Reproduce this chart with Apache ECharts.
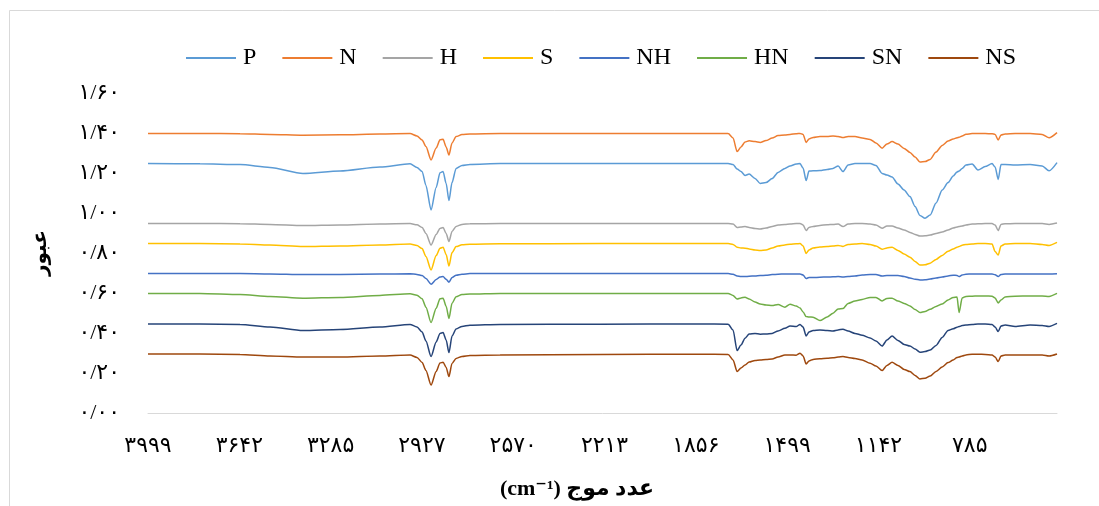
<!DOCTYPE html>
<html><head><meta charset="utf-8">
<script src="https://cdn.jsdelivr.net/npm/echarts@6/dist/echarts.min.js"></script>
<style>html,body{margin:0;padding:0;background:#fff}#c{width:1099px;height:506px}</style>
</head><body><div id="c"></div>
<script>
// ---- data ----
const seriesNames = ['P','N','H','S','NH','HN','SN','NS'];
const seriesColors = ['#5B9BD5','#ED7D31','#A5A5A5','#FFC000','#4472C4','#70AD47','#264478','#9E480E'];
const xTickLabels = ['۳۹۹۹','۳۶۴۲','۳۲۸۵','۲۹۲۷','۲۵۷۰','۲۲۱۳','۱۸۵۶','۱۴۹۹','۱۱۴۲','۷۸۵'];
const yTickLabels = ['۰/۰۰','۰/۲۰','۰/۴۰','۰/۶۰','۰/۸۰','۱/۰۰','۱/۲۰','۱/۴۰','۱/۶۰'];
const wavenumbers = [3999,3796,3639,3522,3393,3248,3092,2974,2947,2927,2912,2892,2872,2857,2845,2833,2822,2810,2794,2771,2740,2622,2231,1840,1730,1711,1695,1680,1664,1648,1625,1605,1582,1558,1535,1508,1488,1464,1449,1437,1425,1414,1398,1371,1343,1320,1300,1281,1261,1234,1206,1175,1152,1128,1109,1089,1066,1042,1019,999,980,960,940,917,893,870,850,835,827,815,800,776,753,725,698,686,674,663,647,608,549,502,475,444];
const P = [1.248,1.246,1.242,1.228,1.198,1.210,1.230,1.246,
 1.228,1.208,1.138,1.015,1.128,1.201,1.207,1.148,1.062,1.152,1.223,1.238,1.243,
 1.247,1.248,1.248,1.248,
 1.242,1.220,1.207,1.188,1.195,1.173,1.148,1.152,1.172,1.203,1.223,1.235,1.245,1.247,
 1.225,1.162,1.210,1.211,1.212,1.218,1.223,1.235,1.207,1.240,1.247,1.248,1.247,1.238,
 1.198,1.190,1.180,1.145,1.115,1.082,1.032,0.988,0.974,0.990,1.050,1.115,1.152,1.185,
 1.205,1.210,1.223,1.240,1.245,1.215,1.232,1.247,1.230,1.168,1.242,1.242,1.240,1.242,1.235,1.211,1.252];
const N = [1.398,1.398,1.396,1.393,1.389,1.391,1.395,1.397,
 1.385,1.365,1.332,1.265,1.325,1.366,1.369,1.330,1.290,1.350,1.382,1.392,1.395,
 1.397,1.398,1.398,1.397,
 1.375,1.307,1.330,1.355,1.361,1.357,1.353,1.362,1.375,1.387,1.390,1.393,1.396,1.398,
 1.393,1.353,1.370,1.378,1.383,1.383,1.385,1.383,1.377,1.383,1.383,1.375,1.368,1.350,
 1.324,1.345,1.357,1.345,1.323,1.303,1.280,1.255,1.257,1.268,1.305,1.338,1.360,1.370,
 1.376,1.379,1.385,1.394,1.397,1.397,1.397,1.396,1.393,1.365,1.390,1.395,1.397,1.397,1.393,1.376,1.402];
const H = [0.948,0.948,0.946,0.943,0.937,0.940,0.945,0.947,
 0.941,0.928,0.898,0.840,0.893,0.923,0.927,0.898,0.857,0.908,0.933,0.943,0.946,
 0.947,0.948,0.948,0.948,
 0.945,0.928,0.930,0.932,0.928,0.923,0.920,0.925,0.933,0.940,0.943,0.945,0.947,0.948,
 0.940,0.912,0.928,0.933,0.938,0.941,0.943,0.945,0.932,0.945,0.947,0.948,0.945,0.940,
 0.924,0.935,0.935,0.925,0.915,0.903,0.893,0.885,0.886,0.890,0.898,0.905,0.915,0.925,
 0.930,0.932,0.935,0.940,0.945,0.946,0.947,0.947,0.940,0.912,0.943,0.946,0.947,0.947,0.947,0.943,0.950];
const S = [0.847,0.847,0.845,0.840,0.832,0.835,0.840,0.845,
 0.837,0.822,0.782,0.715,0.787,0.824,0.829,0.792,0.735,0.802,0.832,0.841,0.844,
 0.846,0.847,0.847,0.847,
 0.843,0.829,0.825,0.824,0.820,0.815,0.812,0.815,0.825,0.835,0.840,0.844,0.846,0.847,
 0.835,0.798,0.815,0.825,0.830,0.832,0.835,0.838,0.833,0.843,0.845,0.848,0.843,0.835,
 0.819,0.825,0.829,0.813,0.795,0.779,0.758,0.740,0.741,0.749,0.768,0.788,0.809,0.820,
 0.829,0.833,0.839,0.843,0.845,0.847,0.847,0.845,0.807,0.790,0.835,0.845,0.847,0.848,0.843,0.838,0.853];
const NH = [0.697,0.697,0.697,0.695,0.692,0.693,0.695,0.696,
 0.693,0.687,0.672,0.644,0.667,0.680,0.682,0.669,0.654,0.677,0.689,0.694,0.697,
 0.697,0.697,0.697,0.697,
 0.694,0.685,0.683,0.682,0.684,0.685,0.687,0.689,0.692,0.694,0.695,0.695,0.695,0.695,
 0.690,0.672,0.678,0.677,0.679,0.680,0.681,0.682,0.680,0.682,0.685,0.690,0.693,0.693,
 0.685,0.687,0.688,0.688,0.683,0.675,0.669,0.665,0.666,0.670,0.675,0.680,0.685,0.689,
 0.688,0.682,0.690,0.694,0.695,0.695,0.695,0.695,0.691,0.682,0.693,0.695,0.695,0.695,0.695,0.695,0.696];
const HN = [0.598,0.598,0.593,0.583,0.574,0.578,0.588,0.596,
 0.589,0.571,0.529,0.452,0.524,0.571,0.574,0.534,0.473,0.549,0.581,0.592,0.595,
 0.598,0.598,0.598,0.598,
 0.588,0.570,0.575,0.579,0.570,0.555,0.545,0.540,0.537,0.543,0.529,0.544,0.535,0.525,
 0.505,0.482,0.480,0.479,0.462,0.480,0.499,0.520,0.522,0.548,0.560,0.568,0.578,0.578,
 0.560,0.573,0.574,0.560,0.548,0.535,0.518,0.502,0.508,0.519,0.533,0.545,0.565,0.578,
 0.580,0.502,0.575,0.583,0.584,0.585,0.585,0.584,0.575,0.550,0.565,0.580,0.584,0.585,0.585,0.583,0.598];
const SN = [0.445,0.445,0.443,0.430,0.412,0.418,0.430,0.443,
 0.430,0.405,0.360,0.282,0.355,0.398,0.402,0.365,0.302,0.385,0.420,0.433,0.439,
 0.443,0.444,0.445,0.444,
 0.415,0.312,0.340,0.374,0.395,0.398,0.394,0.395,0.398,0.410,0.424,0.435,0.432,0.443,
 0.430,0.385,0.405,0.412,0.415,0.413,0.410,0.415,0.419,0.410,0.398,0.389,0.375,0.360,
 0.335,0.365,0.385,0.363,0.343,0.335,0.320,0.304,0.307,0.315,0.338,0.378,0.413,0.421,
 0.429,0.432,0.437,0.440,0.443,0.445,0.445,0.443,0.430,0.407,0.435,0.440,0.433,0.440,0.438,0.433,0.448];
const NS = [0.295,0.295,0.293,0.285,0.280,0.280,0.285,0.290,
 0.278,0.253,0.213,0.140,0.208,0.250,0.254,0.228,0.182,0.248,0.273,0.283,0.288,
 0.290,0.293,0.294,0.293,
 0.265,0.207,0.225,0.240,0.255,0.263,0.265,0.268,0.270,0.280,0.290,0.290,0.289,0.299,
 0.285,0.245,0.260,0.268,0.271,0.274,0.276,0.280,0.282,0.278,0.273,0.265,0.249,0.235,
 0.212,0.238,0.254,0.238,0.218,0.207,0.188,0.170,0.174,0.185,0.208,0.230,0.252,0.265,
 0.278,0.280,0.285,0.290,0.294,0.294,0.293,0.290,0.280,0.257,0.285,0.290,0.290,0.290,0.290,0.285,0.295];
const seriesValues = [P,N,H,S,NH,HN,SN,NS];

// ---- chart ----
const START_WN = 3999;          // left end of the axis
const TICK_STEP = 357.1;        // cm-1 between labelled ticks
const AXIS_SPAN = START_WN - wavenumbers[wavenumbers.length - 1];
const FONT = "'Liberation Serif','DejaVu Sans',serif";

const chart = echarts.init(document.getElementById('c'), null, {renderer: 'canvas'});
chart.setOption({
  animation: false,
  backgroundColor: '#fff',
  color: seriesColors,
  grid: {left: 148, right: 42, top: 93, bottom: 93, containLabel: false},
  legend: {
    data: seriesNames,
    top: 41, left: 181,
    icon: 'rect', itemWidth: 50, itemHeight: 2, itemGap: 26,
    textStyle: {fontFamily: FONT, fontSize: 24, color: '#000', padding: [0, 0, 0, 2]}
  },
  xAxis: {
    type: 'value', min: 0, max: AXIS_SPAN, interval: TICK_STEP,
    axisLine: {show: true, lineStyle: {color: '#D9D9D9', width: 1}},
    axisTick: {show: false}, splitLine: {show: false},
    axisLabel: {
      margin: 22, fontFamily: FONT, fontSize: 22, color: '#000', showMaxLabel: false,
      formatter: v => {
        const i = Math.round(v / TICK_STEP);
        return Math.abs(v - i * TICK_STEP) < 1 ? (xTickLabels[i] || '') : '';
      }
    }
  },
  yAxis: {
    type: 'value', min: 0, max: 1.6, interval: 0.2,
    name: 'عبور', nameLocation: 'middle', nameRotate: 90, nameGap: 97,
    nameTextStyle: {fontFamily: FONT, fontSize: 20, fontWeight: 'bold', color: '#000'},
    axisLine: {show: false}, axisTick: {show: false}, splitLine: {show: false},
    axisLabel: {
      margin: 28, fontFamily: FONT, fontSize: 22, color: '#000',
      formatter: v => yTickLabels[Math.round(v / 0.2)] || ''
    }
  },
  graphic: [
    {type: 'rect', silent: true, z: -1, shape: {x: 9.5, y: 10.5, width: 1100, height: 510},
     style: {fill: 'none', stroke: '#D9D9D9', lineWidth: 1}},
    {type: 'text', silent: true, x: 577, y: 478,
     style: {text: '(cm⁻¹) عدد موج', font: "bold 22px 'Liberation Serif','DejaVu Sans',serif", fill: '#000', textAlign: 'center'}}
  ],
  series: seriesNames.map((name, k) => ({
    name, type: 'line', symbol: 'none', smooth: 0.25, smoothMonotone: 'x',
    lineStyle: {width: 1.5, color: seriesColors[k]},
    data: wavenumbers.map((w, i) => [START_WN - w, seriesValues[k][i]])
  }))
});
</script></body></html>
